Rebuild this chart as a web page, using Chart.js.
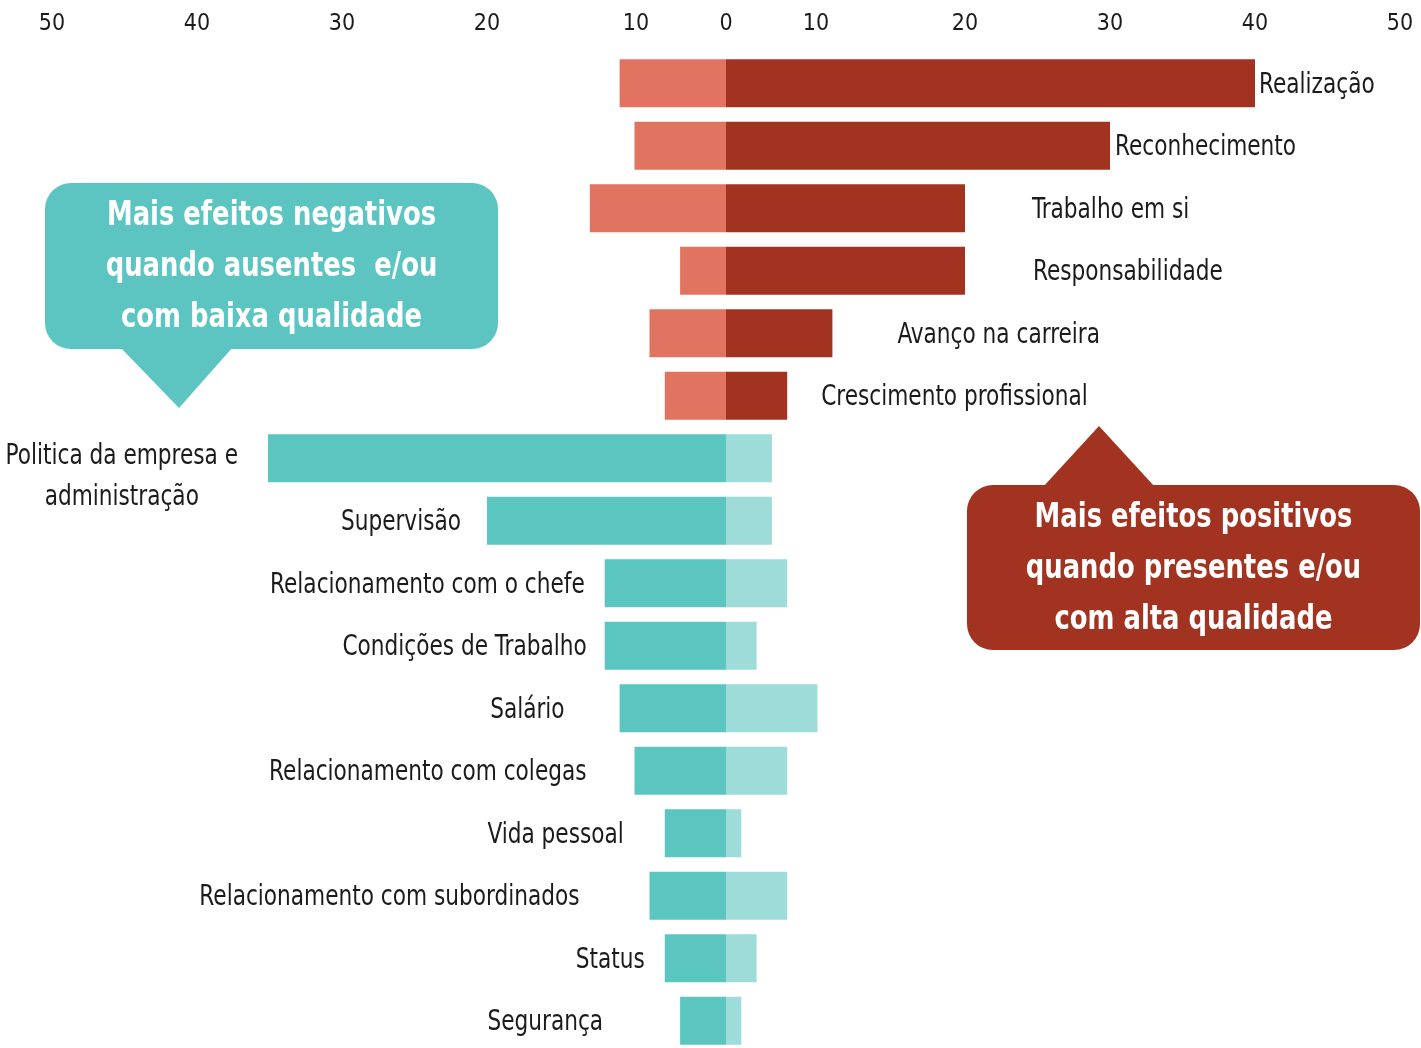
<!DOCTYPE html>
<html lang="pt">
<head>
<meta charset="utf-8">
<title>Fatores de Herzberg</title>
<script src="https://cdn.jsdelivr.net/npm/chart.js@4.4.1/dist/chart.umd.min.js"></script>
<style>
  html, body { margin: 0; padding: 0; background: #fff; overflow: hidden; }
  #caixa { width: 1421px; height: 1060px; }
</style>
</head>
<body>
<div id="caixa"><canvas id="grafico"></canvas></div>
<script>
// ---------- Dados ----------
const fatores = [
  "Realização", "Reconhecimento", "Trabalho em si", "Responsabilidade",
  "Avanço na carreira", "Crescimento profissional",
  "Politica da empresa e\nadministração", "Supervisão", "Relacionamento com o chefe",
  "Condições de Trabalho", "Salário", "Relacionamento com colegas", "Vida pessoal",
  "Relacionamento com subordinados", "Status", "Segurança"
];
const tipo = [
  "motivador", "motivador", "motivador", "motivador", "motivador", "motivador",
  "higiene", "higiene", "higiene", "higiene", "higiene",
  "higiene", "higiene", "higiene", "higiene", "higiene"
];
// efeito negativo (lado esquerdo) e positivo (lado direito)
const negativos = [11.1, 10.1, 13.1, 5.1, 8.5, 6.8, 35.1, 20.0, 12.1, 12.1, 11.1, 10.1, 6.8, 8.5, 6.8, 5.1];
const positivos = [40, 30, 20, 20, 11.1, 6.8, 5.1, 5.1, 6.8, 3.4, 10.1, 6.8, 1.7, 6.8, 3.4, 1.7];
const ticksEixo = [-50, -40, -30, -20, -10, 0, 10, 20, 30, 40, 50];

// ---------- Estilo ----------
const cores = {
  motivador: { neg: "#e07461", pos: "#a33321" },
  higiene:   { neg: "#5bc5c0", pos: "#9ddcd8" }
};
const folgaRotulo = [4, 5, 67, 68, 65, 34, 30, 26, 20, 18, 55, 48, 41, 70, 20, 77];
const fonte = '"Liberation Sans Narrow", "Arial Narrow", "DejaVu Sans Condensed", sans-serif';
const aperto = 0.83; // a fonte original é mais estreita

// eixo do original: o trecho 0-10 é mais curto que os outros
const nosValor = [0, 10, 20, 30, 40, 50];
const nosEixo  = [0, 90, 239, 384, 529, 674];

function paraEixo(v) {
  const a = Math.abs(v), s = v < 0 ? -1 : 1;
  for (let i = 1; i < nosValor.length; i++) {
    if (a <= nosValor[i] || i === nosValor.length - 1) {
      const f = (a - nosValor[i - 1]) / (nosValor[i] - nosValor[i - 1]);
      return s * (nosEixo[i - 1] + f * (nosEixo[i] - nosEixo[i - 1]));
    }
  }
}
function deEixo(t) {
  const a = Math.abs(t), s = t < 0 ? -1 : 1;
  for (let i = 1; i < nosEixo.length; i++) {
    if (a <= nosEixo[i] || i === nosEixo.length - 1) {
      const f = (a - nosEixo[i - 1]) / (nosEixo[i] - nosEixo[i - 1]);
      return s * (nosValor[i - 1] + f * (nosValor[i] - nosValor[i - 1]));
    }
  }
}

class EscalaPorTrechos extends Chart.LinearScale {
  static id = "trechos";
  static defaults = Chart.LinearScale.defaults;
  getPixelForValue(value) {
    const t0 = paraEixo(this.min), t1 = paraEixo(this.max);
    return this.getPixelForDecimal((paraEixo(value) - t0) / (t1 - t0));
  }
  getValueForPixel(pixel) {
    const t0 = paraEixo(this.min), t1 = paraEixo(this.max);
    return deEixo(t0 + this.getDecimalForPixel(pixel) * (t1 - t0));
  }
}
Chart.register(EscalaPorTrechos);

function textoEstreito(ctx, txt, x, y, k) {
  ctx.save();
  ctx.translate(x, y);
  ctx.scale(k, 1);
  ctx.fillText(txt, 0, 0);
  ctx.restore();
}

// ---------- Rótulos das barras ----------
const rotulos = {
  id: "rotulos",
  afterDatasetsDraw(chart) {
    const ctx = chart.ctx;
    const esq = chart.getDatasetMeta(0).data;
    const dir = chart.getDatasetMeta(1).data;
    ctx.save();
    ctx.font = "29px " + fonte;
    ctx.fillStyle = "#1b1b1b";
    ctx.textBaseline = "middle";
    fatores.forEach((nome, i) => {
      const linhas = nome.split("\n");
      const y = dir[i].y + 2;
      if (tipo[i] === "motivador") {
        ctx.textAlign = "left";
        textoEstreito(ctx, linhas[0], dir[i].x + folgaRotulo[i], y, aperto);
      } else if (linhas.length > 1) {
        const larg = Math.max(...linhas.map(l => ctx.measureText(l).width)) * aperto;
        const cx = esq[i].x - folgaRotulo[i] - larg / 2;
        ctx.textAlign = "center";
        linhas.forEach((l, k) => textoEstreito(ctx, l, cx, y - 4 + k * 41, aperto));
      } else {
        ctx.textAlign = "right";
        textoEstreito(ctx, linhas[0], esq[i].x - folgaRotulo[i], y, aperto);
      }
    });
    ctx.restore();
  }
};

// ---------- Balões ----------
function balao(ctx, b) {
  ctx.save();
  ctx.fillStyle = b.cor;
  ctx.beginPath();
  ctx.roundRect(b.x, b.y, b.w, b.h, 26);
  ctx.fill();
  ctx.beginPath();
  ctx.moveTo(b.bico[0][0], b.bico[0][1]);
  ctx.lineTo(b.bico[1][0], b.bico[1][1]);
  ctx.lineTo(b.bico[2][0], b.bico[2][1]);
  ctx.closePath();
  ctx.fill();
  ctx.fillStyle = "#fff";
  ctx.font = "bold 34px " + fonte;
  ctx.textAlign = "center";
  ctx.textBaseline = "middle";
  b.texto.forEach((l, k) => textoEstreito(ctx, l, b.x + b.w / 2, b.ty + k * 51, 0.845));
  ctx.restore();
}

const baloes = {
  id: "baloes",
  afterDraw(chart) {
    const ctx = chart.ctx;
    balao(ctx, {
      x: 45, y: 183, w: 453, h: 166, cor: "#5cc5c1",
      bico: [[120, 347], [179, 408], [233, 347]],
      ty: 216,
      texto: ["Mais efeitos negativos", "quando ausentes  e/ou", "com baixa qualidade"]
    });
    balao(ctx, {
      x: 967, y: 485, w: 453, h: 165, cor: "#a33321",
      bico: [[1043, 487], [1099, 426], [1155, 487]],
      ty: 518,
      texto: ["Mais efeitos positivos", "quando presentes e/ou", "com alta qualidade"]
    });
  }
};

// ---------- Gráfico ----------
new Chart(document.getElementById("grafico"), {
  type: "bar",
  data: {
    labels: fatores,
    datasets: [
      {
        label: "Negativo",
        data: negativos.map(v => -v),
        backgroundColor: tipo.map(t => cores[t].neg)
      },
      {
        label: "Positivo",
        data: positivos,
        backgroundColor: tipo.map(t => cores[t].pos)
      }
    ]
  },
  options: {
    indexAxis: "y",
    responsive: true,
    maintainAspectRatio: false,
    animation: false,
    layout: { padding: { left: 52, right: 21, top: 0, bottom: 8 } },
    datasets: {
      bar: { barPercentage: 0.768, categoryPercentage: 1, borderWidth: 0 }
    },
    plugins: {
      legend: { display: false },
      tooltip: { enabled: false }
    },
    scales: {
      x: {
        type: "trechos",
        position: "top",
        stacked: true,
        min: -50,
        max: 50,
        grid: { display: false, drawTicks: false },
        border: { display: false },
        afterBuildTicks: scale => {
          scale.ticks = ticksEixo.map(v => ({ value: v }));
        },
        afterFit: scale => {
          scale.height = 52;
          scale.paddingLeft = 0;
          scale.paddingRight = 0;
        },
        ticks: {
          autoSkip: false,
          maxRotation: 0,
          padding: 14,
          color: "#1b1b1b",
          font: { family: fonte, size: 23 },
          callback: v => String(Math.abs(v))
        }
      },
      y: {
        display: false,
        stacked: true
      }
    }
  },
  plugins: [rotulos, baloes]
});
</script>
</body>
</html>
